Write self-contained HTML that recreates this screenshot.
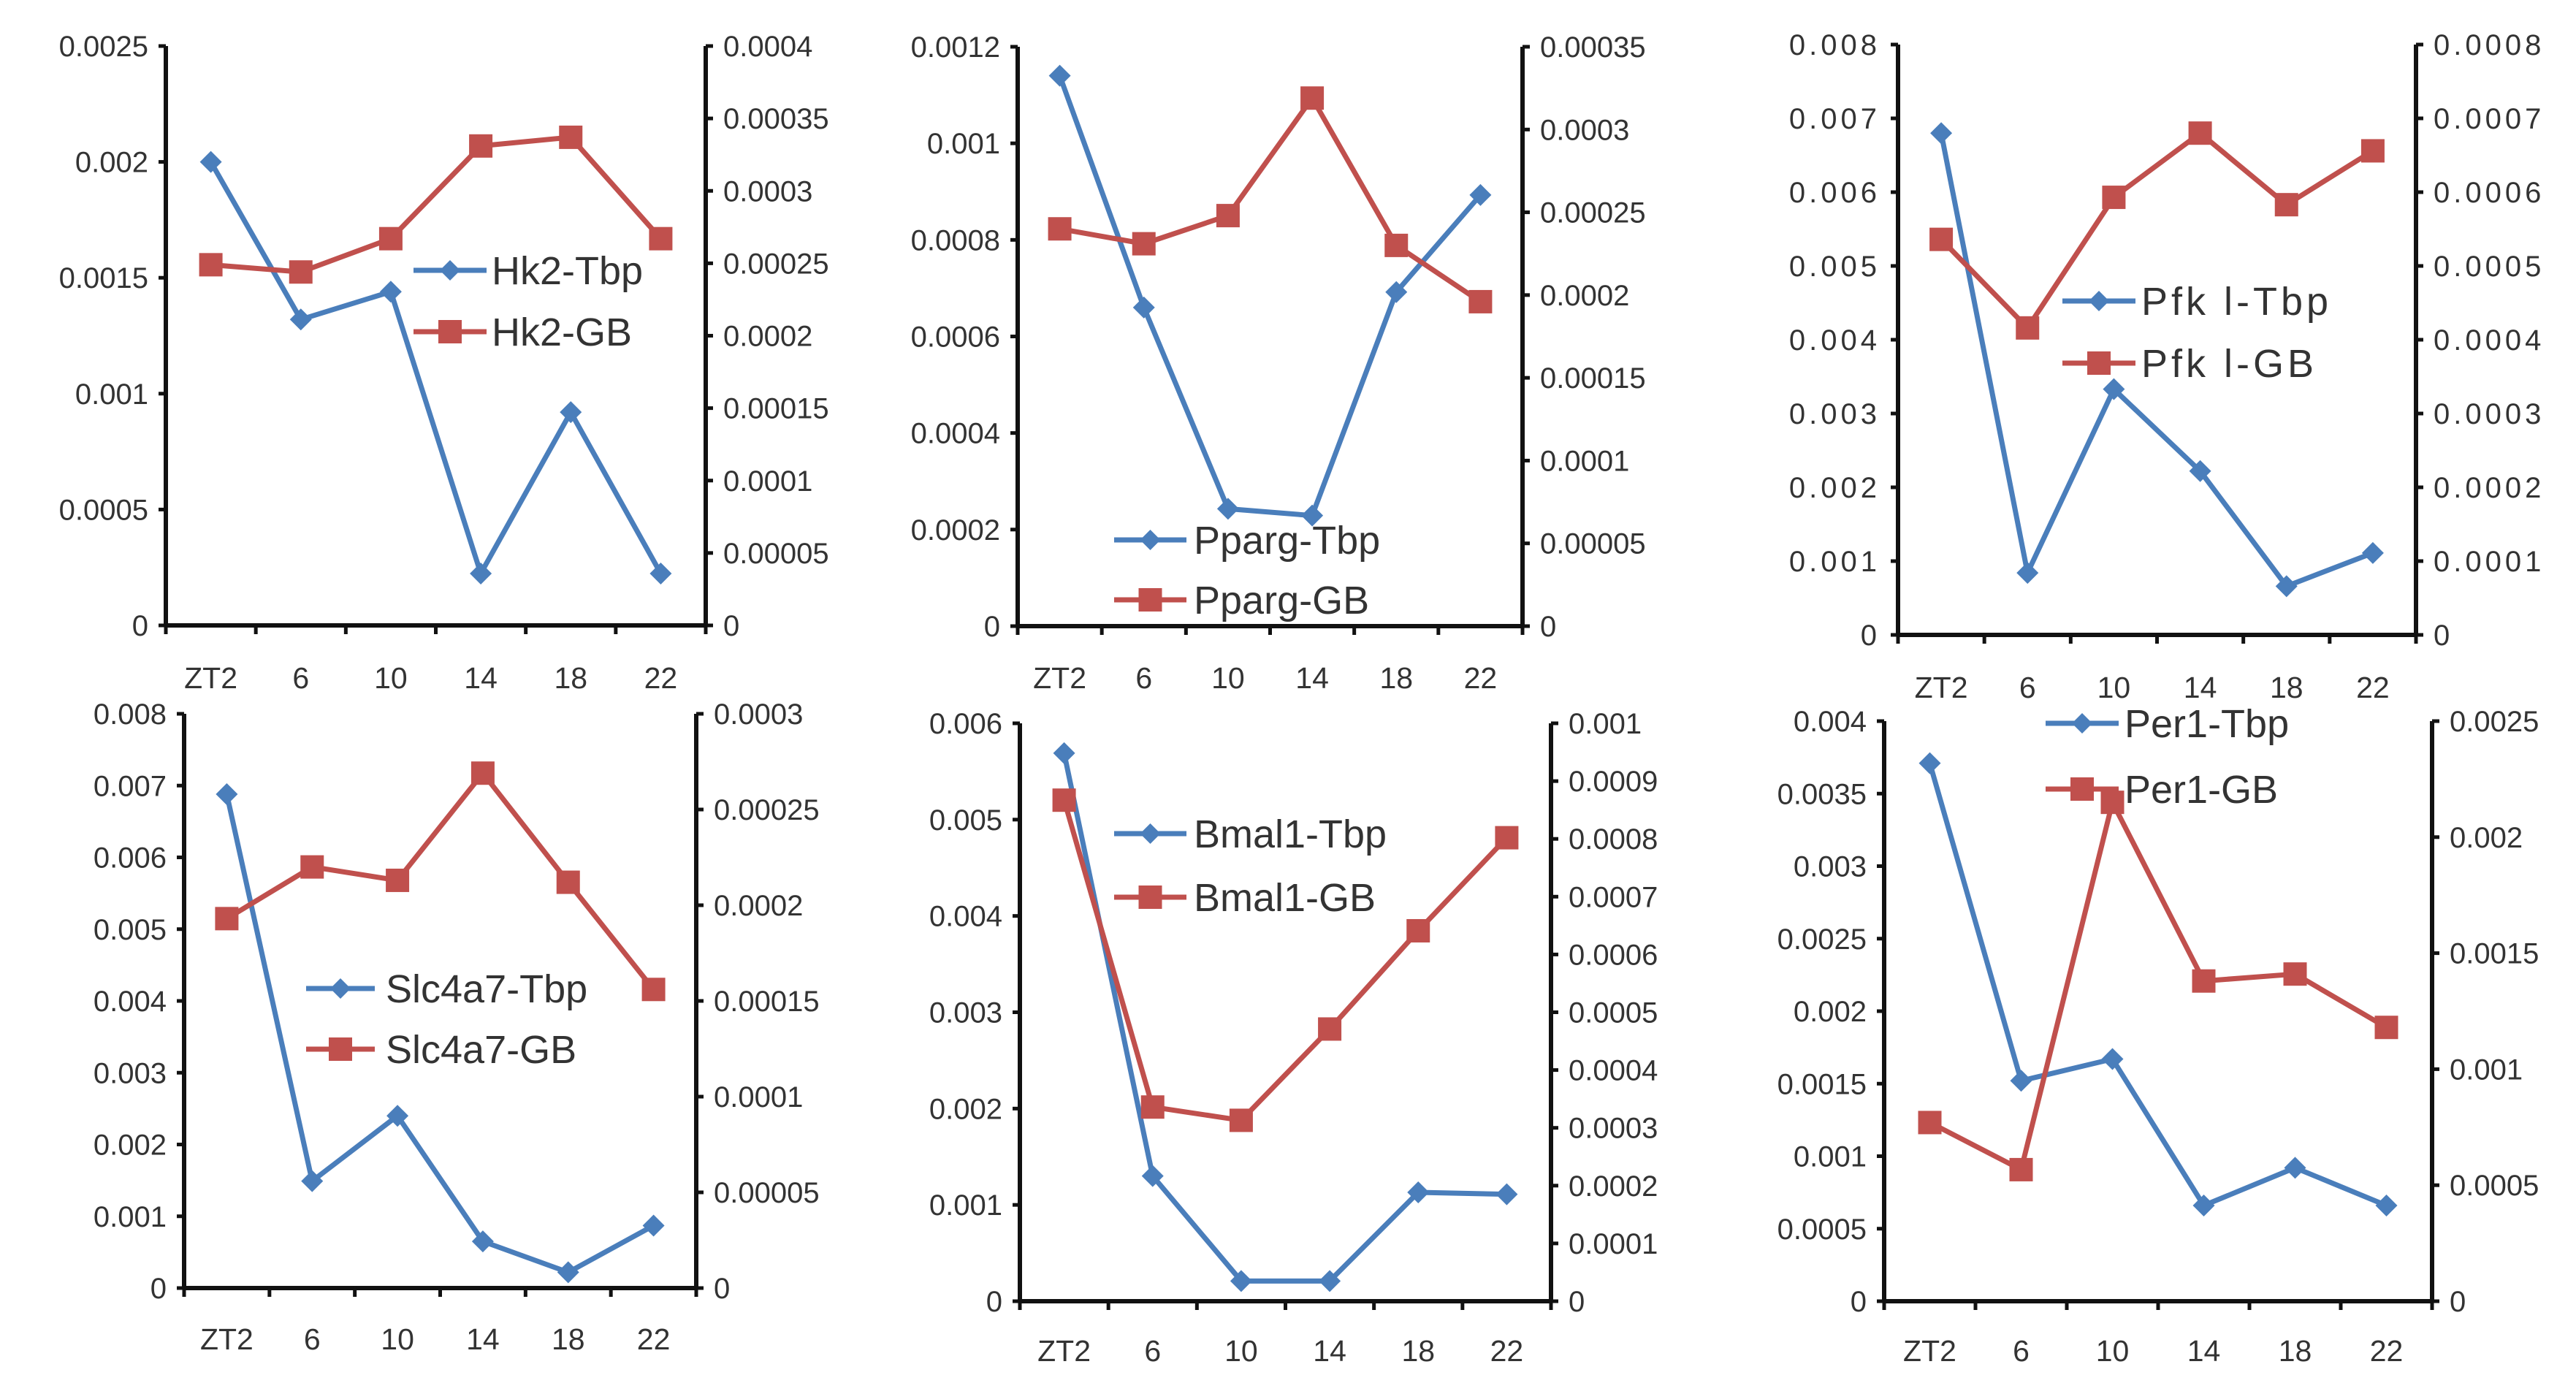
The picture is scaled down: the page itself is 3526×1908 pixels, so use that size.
<!DOCTYPE html>
<html><head><meta charset="utf-8"><style>
html,body{margin:0;padding:0;background:#fff;}
svg{display:block;font-family:"Liberation Sans",sans-serif;}
</style></head><body>
<svg id="fig" width="3526" height="1908" viewBox="0 0 3526 1908" xmlns="http://www.w3.org/2000/svg"></svg>
<script>
const categories = ["ZT2","6","10","14","18","22"];
// Hk2
const hk2Tbp = [0.002,0.00132,0.00144,0.000224,0.00092,0.000224];
const hk2GB  = [0.000249,0.000244,0.000267,0.000331,0.000337,0.000267];
const hk2LeftTicks = ["0","0.0005","0.001","0.0015","0.002","0.0025"];
const hk2RightTicks = ["0","0.00005","0.0001","0.00015","0.0002","0.00025","0.0003","0.00035","0.0004"];
// Pparg
const ppargTbp = [0.00114,0.00066,0.000243,0.000229,0.000692,0.000893];
const ppargGB  = [0.00024,0.000231,0.000248,0.000319,0.00023,0.000196];
const ppargLeftTicks = ["0","0.0002","0.0004","0.0006","0.0008","0.001","0.0012"];
const ppargRightTicks = ["0","0.00005","0.0001","0.00015","0.0002","0.00025","0.0003","0.00035"];
// Pfkl
const pfklTbp = [0.0068,0.00084,0.00333,0.00222,0.00066,0.00111];
const pfklGB  = [0.000536,0.000416,0.000593,0.00068,0.000583,0.000656];
const pfklLeftTicks = ["0","0.001","0.002","0.003","0.004","0.005","0.006","0.007","0.008"];
const pfklRightTicks = ["0","0.0001","0.0002","0.0003","0.0004","0.0005","0.0006","0.0007","0.0008"];
// Slc4a7
const slcTbp = [0.00688,0.00149,0.0024,0.00065,0.00022,0.00087];
const slcGB  = [0.000193,0.00022,0.000213,0.000269,0.000212,0.000156];
const slcLeftTicks = ["0","0.001","0.002","0.003","0.004","0.005","0.006","0.007","0.008"];
const slcRightTicks = ["0","0.00005","0.0001","0.00015","0.0002","0.00025","0.0003"];
// Bmal1
const bmalTbp = [0.00569,0.0013,0.00021,0.00021,0.00113,0.00111];
const bmalGB  = [0.000867,0.000336,0.000313,0.000471,0.000641,0.000802];
const bmalLeftTicks = ["0","0.001","0.002","0.003","0.004","0.005","0.006"];
const bmalRightTicks = ["0","0.0001","0.0002","0.0003","0.0004","0.0005","0.0006","0.0007","0.0008","0.0009","0.001"];
// Per1
const perTbp = [0.00371,0.00152,0.00167,0.00066,0.00092,0.00066];
const perGB  = [0.00077,0.000567,0.00215,0.00138,0.00141,0.00118];
const perLeftTicks = ["0","0.0005","0.001","0.0015","0.002","0.0025","0.003","0.0035","0.004"];
const perRightTicks = ["0","0.0005","0.001","0.0015","0.002","0.0025"];

const panels = [
 {id:"hk2",l:227,r:966,t:63,b:856,tbp:hk2Tbp,gb:hk2GB,lt:hk2LeftTicks,rt:hk2RightTicks,xl:927,names:["Hk2-Tbp","Hk2-GB"],lg:[566,666,673,370,454],ls:0},
 {id:"pparg",l:1393,r:2084,t:64,b:857,tbp:ppargTbp,gb:ppargGB,lt:ppargLeftTicks,rt:ppargRightTicks,xl:927,names:["Pparg-Tbp","Pparg-GB"],lg:[1525,1624,1634,739,821],ls:0},
 {id:"pfkl",l:2598,r:3307,t:61,b:869,tbp:pfklTbp,gb:pfklGB,lt:pfklLeftTicks,rt:pfklRightTicks,xl:940,names:["Pfk l-Tbp","Pfk l-GB"],lg:[2823,2923,2931,412,497],ls:5},
 {id:"slc4a7",l:252,r:953,t:977,b:1763,tbp:slcTbp,gb:slcGB,lt:slcLeftTicks,rt:slcRightTicks,xl:1832,names:["Slc4a7-Tbp","Slc4a7-GB"],lg:[419,513,528,1353,1436],ls:0},
 {id:"bmal1",l:1396,r:2123,t:990,b:1781,tbp:bmalTbp,gb:bmalGB,lt:bmalLeftTicks,rt:bmalRightTicks,xl:1848,names:["Bmal1-Tbp","Bmal1-GB"],lg:[1525,1624,1634,1141,1228],ls:0},
 {id:"per1",l:2579,r:3329,t:987,b:1781,tbp:perTbp,gb:perGB,lt:perLeftTicks,rt:perRightTicks,xl:1848,names:["Per1-Tbp","Per1-GB"],lg:[2800,2900,2908,990,1080],ls:0}
];
const NS="http://www.w3.org/2000/svg";
const svg=document.getElementById("fig");
const BLUE="#4a7ebb", RED="#c0504d";
function mk(tag,parent,attrs){const e=document.createElementNS(NS,tag);for(const k in attrs)e.setAttribute(k,attrs[k]);parent.appendChild(e);return e;}
function diamond(g,x,y,s){return mk("polygon",g,{points:`${x},${y-s} ${x+s},${y} ${x},${y+s} ${x-s},${y}`,fill:BLUE});}
function square(g,x,y,s){return mk("rect",g,{x:x-s,y:y-s,width:2*s,height:2*s,fill:RED});}
panels.forEach(p=>{
  const g=mk("g",svg,{});
  
  
  const lMax=parseFloat(p.lt[p.lt.length-1]), rMax=parseFloat(p.rt[p.rt.length-1]);
  const yL=v=>p.b-(v/lMax)*(p.b-p.t);
  const yR=v=>p.b-(v/rMax)*(p.b-p.t);
  const step=(p.r-p.l)/categories.length;
  const xC=i=>p.l+step*(i+0.5);
  const ax=mk("g",g,{stroke:"#111","stroke-width":6});
  
  
  mk("line",ax,{x1:p.l,y1:p.t,x2:p.l,y2:p.b+2});
  mk("line",ax,{x1:p.r,y1:p.t,x2:p.r,y2:p.b+2});
  mk("line",ax,{x1:p.l,y1:p.b,x2:p.r,y2:p.b});
  for(let i=0;i<=categories.length;i++){const x=p.l+step*i;mk("line",ax,{x1:x,y1:p.b-2,x2:x,y2:p.b+12,"stroke-width":5});}
  p.lt.forEach(t=>{const y=yL(parseFloat(t));mk("line",ax,{x1:p.l-10,y1:y,x2:p.l,y2:y,"stroke-width":5});
    const tx=mk("text",g,{x:p.l-24,y:y+14,"text-anchor":"end","font-size":40,fill:"#333","letter-spacing":p.ls});tx.textContent=t;
    
    });
  p.rt.forEach(t=>{const y=yR(parseFloat(t));mk("line",ax,{x1:p.r,y1:y,x2:p.r+10,y2:y,"stroke-width":5});
    const tx=mk("text",g,{x:p.r+24,y:y+14,"text-anchor":"start","font-size":40,fill:"#333","letter-spacing":p.ls});tx.textContent=t;
    
    });
  categories.forEach((c,i)=>{const tx=mk("text",g,{x:xC(i),y:p.xl+15,"text-anchor":"middle","font-size":41,fill:"#333"});tx.textContent=c;
    
    });
  const ptsT=p.tbp.map((v,i)=>xC(i)+","+yL(v)).join(" ");
  const ptsG=p.gb.map((v,i)=>xC(i)+","+yR(v)).join(" ");
  const lt=mk("polyline",g,{points:ptsT,fill:"none",stroke:BLUE,"stroke-width":7,"stroke-linejoin":"round"});
  
  
  const lgb=mk("polyline",g,{points:ptsG,fill:"none",stroke:RED,"stroke-width":7,"stroke-linejoin":"round"});
  
  
  p.tbp.forEach((v,i)=>{const m=diamond(g,xC(i),yL(v),15);
    
    });
  p.gb.forEach((v,i)=>{const m=square(g,xC(i),yR(v),16);
    
    });
  const [x1,x2,tx0,y1,y2]=p.lg;
  const lg=mk("g",g,{});
  
  
  mk("line",lg,{x1:x1,y1:y1,x2:x2,y2:y1,stroke:BLUE,"stroke-width":7});
  diamond(lg,(x1+x2)/2,y1,14);
  const t1=mk("text",lg,{x:tx0,y:y1+19,"font-size":54,fill:"#333","letter-spacing":p.ls});t1.textContent=p.names[0];
  
  
  mk("line",lg,{x1:x1,y1:y2,x2:x2,y2:y2,stroke:RED,"stroke-width":7});
  square(lg,(x1+x2)/2,y2,16);
  const t2=mk("text",lg,{x:tx0,y:y2+19,"font-size":54,fill:"#333","letter-spacing":p.ls});t2.textContent=p.names[1];
  
  
});
</script>
</body></html>
